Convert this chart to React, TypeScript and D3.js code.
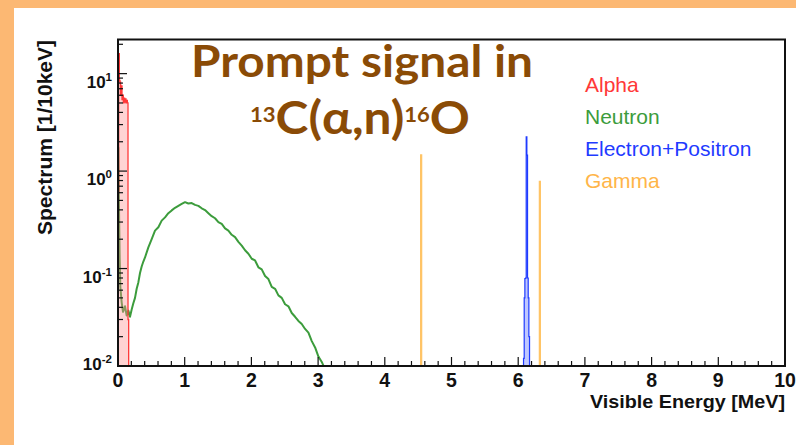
import React from 'react';
import * as d3 from 'd3';

const W = 796;
const H = 445;

// axis ticks
const xMajorTicks = [0, 1, 2, 3, 4, 5, 6, 7, 8, 9, 10];
const xTickLabels = ['0', '1', '2', '3', '4', '5', '6', '7', '8', '9', '10'];
const yDecades = [-2, -1, 0, 1];
const yExpLabels = ['-2', '-1', '0', '1'];

const legendLabels = ['Alpha', 'Neutron', 'Electron+Positron', 'Gamma'];
const legendColors = ['#FF3838', '#3C9C3C', '#1F3BFF', '#FFB548'];

// Alpha (10 keV bins)
const alphaE = [0.0, 0.01, 0.02, 0.03, 0.04, 0.05, 0.06, 0.07, 0.08, 0.09, 0.1, 0.11, 0.12, 0.13, 0.14, 0.15];
const alphaV = [0.6, 16, 8.5, 8.2, 6.0, 7.5, 5.4, 6.0, 5.0, 5.6, 5.1, 5.5, 5.0, 5.3, 5.0, 0.03];

// Neutron
const neutronE = [
  0.0, 0.01, 0.02, 0.03, 0.05, 0.07, 0.1, 0.125, 0.15, 0.175, 0.2, 0.225, 0.25, 0.275, 0.3, 0.325, 0.35, 0.375,
  0.4, 0.45, 0.5, 0.55, 0.6, 0.65, 0.7, 0.75, 0.8, 0.85, 0.9, 0.95, 1.0, 1.05, 1.1, 1.15, 1.2, 1.25, 1.3, 1.35,
  1.4, 1.45, 1.5, 1.55, 1.6, 1.65, 1.7, 1.75, 1.8, 1.85, 1.9, 1.95, 2.0, 2.05, 2.1, 2.15, 2.2, 2.25, 2.3, 2.35,
  2.4, 2.45, 2.5, 2.55, 2.6, 2.65, 2.7, 2.75, 2.8, 2.85, 2.9, 2.95, 3.0, 3.05, 3.1,
];
const neutronV = [
  1.76, 0.42, 0.13, 0.065, 0.045, 0.036, 0.041, 0.033, 0.037, 0.032, 0.038, 0.044, 0.05, 0.062, 0.072, 0.09,
  0.105, 0.118, 0.13, 0.165, 0.2, 0.245, 0.265, 0.31, 0.335, 0.37, 0.395, 0.42, 0.44, 0.46, 0.48, 0.465,
  0.47, 0.45, 0.44, 0.415, 0.398, 0.37, 0.345, 0.328, 0.3, 0.287, 0.258, 0.245, 0.222, 0.21, 0.188, 0.172,
  0.154, 0.142, 0.126, 0.121, 0.103, 0.098, 0.084, 0.078, 0.065, 0.062, 0.053, 0.05, 0.043, 0.041, 0.035,
  0.032, 0.029, 0.027, 0.024, 0.022, 0.018, 0.0155, 0.0125, 0.011, 0.0092,
];

// Electron + Positron
const positronE = [6.08, 6.09, 6.1, 6.11, 6.12, 6.13, 6.14, 6.15, 6.16];
const positronV = [0.012, 0.05, 0.079, 0.08, 2.24, 1.46, 0.08, 0.05, 0.02];

// Gamma lines
const gammaE = [4.54, 6.32];
const gammaV = [1.46, 0.78];

const L = 118;
const R = 785;
const T = 39.5;
const B = 366;

const x = d3.scaleLinear().domain([0, 10]).range([L, R]);
const y = d3.scaleLog().domain([0.01, 22.4]).range([B, T]);
const BASE = 0.004;

function histPoints(es: number[], vs: number[], lastW: number): [number, number][] {
  const pts: [number, number][] = [[es[0], BASE]];
  for (let i = 0; i < es.length; i++) {
    const w = i < es.length - 1 ? es[i + 1] - es[i] : lastW;
    pts.push([es[i], vs[i]]);
    pts.push([es[i] + w, vs[i]]);
  }
  pts.push([es[es.length - 1] + lastW, BASE]);
  return pts;
}

const line = d3
  .line<[number, number]>()
  .x((d) => x(d[0]))
  .y((d) => y(d[1]));

export default function App() {
  const xMinor: number[] = [];
  for (let i = 0; i <= 50; i++) {
    if (i % 5 !== 0) xMinor.push(i * 0.2);
  }
  const yMinor: number[] = [];
  for (let d = -2; d <= 1; d++) {
    for (let k = 2; k <= 9; k++) {
      const v = k * Math.pow(10, d);
      if (v < 22.4) yMinor.push(v);
    }
  }

  const alphaPath = line(histPoints(alphaE, alphaV, 0.01)) || '';
  const neutronPts: [number, number][] = neutronE.map((e, i) => [e + 0.005, neutronV[i]]);
  const neutronPath = line(neutronPts) || '';
  const positronPath = line(histPoints(positronE, positronV, 0.01)) || '';

  const sans = "'Liberation Sans', Arial, Helvetica, sans-serif";
  const titleFont = "Lato, 'Open Sans', sans-serif";
  const brown = '#8A4B06';

  return (
    <svg
      width={W}
      height={H}
      viewBox={`0 0 ${W} ${H}`}
      style={{ position: 'absolute', left: 0, top: 0, display: 'block' }}
    >
      <rect x={0} y={0} width={W} height={H} fill="#FCB873" />
      <rect x={14} y={8} width={W - 14} height={H - 8} fill="#FFFFFF" />

      <defs>
        <clipPath id="plotClip">
          <rect x={L} y={T} width={R - L} height={B - T} />
        </clipPath>
      </defs>

      <g clipPath="url(#plotClip)">
        {/* neutron */}
        <path d={neutronPath} fill="none" stroke="#3C9C3C" strokeWidth={2} strokeLinejoin="round" />
        {/* alpha */}
        <path d={alphaPath} fill="#FF9090" fillOpacity={0.4} stroke="#FF3838" strokeWidth={1.3} />
        {/* gamma */}
        {gammaE.map((e, i) => (
          <path
            key={'g' + i}
            d={line(histPoints([e], [gammaV[i]], 0.01)) || ''}
            fill="#FFC466"
            stroke="#FFC466"
            strokeWidth={1.6}
          />
        ))}
        {/* electron + positron */}
        <path d={positronPath} fill="#8090FF" fillOpacity={0.5} stroke="#1F3BFF" strokeWidth={1.2} />
      </g>

      {/* ticks */}
      <g stroke="#111" strokeWidth={1.2}>
        {xMajorTicks.map((t) => (
          <line key={'xM' + t} x1={x(t)} x2={x(t)} y1={B} y2={B - 9} />
        ))}
        {xMinor.map((t, i) => (
          <line key={'xm' + i} x1={x(t)} x2={x(t)} y1={B} y2={B - 5} />
        ))}
        {yDecades.map((d) => (
          <line key={'yM' + d} x1={L} x2={L + 9} y1={y(Math.pow(10, d))} y2={y(Math.pow(10, d))} />
        ))}
        {yMinor.map((v, i) => (
          <line key={'ym' + i} x1={L} x2={L + 5} y1={y(v)} y2={y(v)} />
        ))}
      </g>

      {/* frame */}
      <rect x={L} y={T} width={R - L} height={B - T} fill="none" stroke="#111" strokeWidth={2} />

      {/* x tick labels */}
      {xMajorTicks.map((t, i) => (
        <text
          key={'xl' + t}
          x={x(t)}
          y={387}
          textAnchor="middle"
          fontFamily={sans}
          fontWeight="bold"
          fontSize={19.5}
          fill="#111"
        >
          {xTickLabels[i]}
        </text>
      ))}

      {/* y tick labels */}
      {yDecades.map((d, i) => {
        const ty = y(Math.pow(10, d));
        const base = d === -2 ? ty + 4 : ty + 14;
        return (
          <text
            key={'yl' + d}
            x={112}
            y={base}
            textAnchor="end"
            fontFamily={sans}
            fontWeight="bold"
            fontSize={17}
            fill="#111"
          >
            10
            <tspan fontSize={11.5} dy={-7}>
              {yExpLabels[i]}
            </tspan>
          </text>
        );
      })}

      {/* axis titles */}
      <text
        x={785}
        y={408}
        textAnchor="end"
        fontFamily={sans}
        fontWeight="bold"
        fontSize={19}
        fill="#111"
        textLength={195}
        lengthAdjust="spacingAndGlyphs"
      >
        Visible Energy [MeV]
      </text>
      <text
        transform="translate(52,40) rotate(-90)"
        x={0}
        y={0}
        textAnchor="end"
        fontFamily={sans}
        fontWeight="bold"
        fontSize={20}
        fill="#111"
        textLength={195}
        lengthAdjust="spacingAndGlyphs"
      >
        Spectrum [1/10keV]
      </text>

      {/* title */}
      <text
        x={191}
        y={77}
        fontFamily={titleFont}
        fontWeight="bold"
        fontSize={44}
        fill={brown}
        textLength={342}
        lengthAdjust="spacingAndGlyphs"
      >
        Prompt signal in
      </text>
      <text
        x={250}
        y={134}
        fontFamily={titleFont}
        fontWeight="bold"
        fill={brown}
        fontSize={45}
        textLength={220}
        lengthAdjust="spacingAndGlyphs"
      >
        <tspan fontSize={20} dy={-12}>
          13
        </tspan>
        <tspan fontSize={45} dy={12}>
          C(α,n)
        </tspan>
        <tspan fontSize={20} dy={-12}>
          16
        </tspan>
        <tspan fontSize={45} dy={12}>
          O
        </tspan>
      </text>

      {/* legend */}
      {legendLabels.map((lab, i) => (
        <text key={lab} x={585} y={91.5 + i * 32} fontFamily={sans} fontSize={21} fill={legendColors[i]}>
          {lab}
        </text>
      ))}
    </svg>
  );
}
